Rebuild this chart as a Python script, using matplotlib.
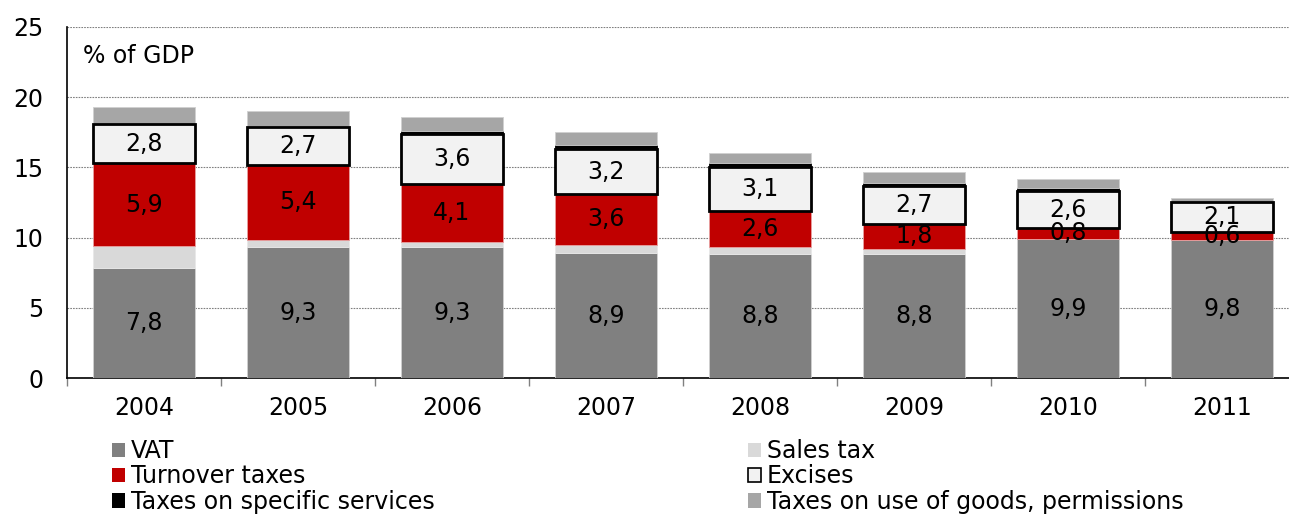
import numpy as np
import matplotlib
matplotlib.use('Agg')
from matplotlib import pyplot as plt
from matplotlib.patches import Patch

years = ['2004', '2005', '2006', '2007', '2008', '2009', '2010', '2011']
vat = [7.8, 9.3, 9.3, 8.9, 8.8, 8.8, 9.9, 9.8]
sales_tax = [1.6, 0.5, 0.4, 0.6, 0.5, 0.4, 0.0, 0.0]
turnover = [5.9, 5.4, 4.1, 3.6, 2.6, 1.8, 0.8, 0.6]
excises = [2.8, 2.7, 3.6, 3.2, 3.1, 2.7, 2.6, 2.1]
specific = [0.0, 0.0, 0.2, 0.3, 0.3, 0.2, 0.2, 0.0]
use_goods = [1.2, 1.1, 1.0, 0.9, 0.7, 0.8, 0.7, 0.3]

FS = 17
plt.rcParams['font.family'] = 'DejaVu Sans'

fig = plt.figure(figsize=(12.89, 5.15), dpi=100)
ax = fig.add_axes([67 / 1289, 137 / 515, 1232 / 1289, 351 / 515])

x = np.arange(len(years))
w = 0.66
bottom = np.zeros(len(years))

def fmt(v):
    return ('%.1f' % v).replace('.', ',')

b_vat = ax.bar(x, vat, w, bottom=bottom, color='#808080', edgecolor='#d0d0d0', linewidth=0.6, zorder=3)
bottom += vat
b_sales = ax.bar(x, sales_tax, w, bottom=bottom, color='#d9d9d9', edgecolor='#e8e8e8', linewidth=0.6, zorder=3)
bottom += sales_tax
b_turn = ax.bar(x, turnover, w, bottom=bottom, color='#c00000', edgecolor='#e8a0a0', linewidth=0.6, zorder=3)
bottom += turnover
b_exc = ax.bar(x, excises, w, bottom=bottom, color='#f2f2f2', edgecolor='black', linewidth=2, zorder=4)
bottom += excises
b_spec = ax.bar(x, specific, w, bottom=bottom, color='black', edgecolor='black', linewidth=0.6, zorder=3)
bottom += specific
b_use = ax.bar(x, use_goods, w, bottom=bottom, color='#a6a6a6', edgecolor='#d0d0d0', linewidth=0.6, zorder=3)

for bars, vals in [(b_vat, vat), (b_turn, turnover), (b_exc, excises)]:
    ax.bar_label(bars, labels=[fmt(v) for v in vals], label_type='center', fontsize=FS, color='black', zorder=6)

ax.set_xlim(-0.5, len(years) - 0.5)
ax.set_ylim(0, 25)
ax.set_yticks([0, 5, 10, 15, 20, 25])
ax.tick_params(axis='y', length=0, pad=17, labelsize=FS)
ax.yaxis.grid(True, linestyle=(0, (1.5, 1)), color='#808080', linewidth=0.8, zorder=0)
ax.set_xticks(x)
ax.set_xticklabels(years)
ax.tick_params(axis='x', which='major', length=0, pad=13, labelsize=FS)
ax.set_xticks(np.arange(-0.5, len(years), 1.0), minor=True)
ax.tick_params(axis='x', which='minor', length=6, width=1, color='#808080', direction='out')
for s in ['top', 'right']:
    ax.spines[s].set_visible(False)
ax.spines['left'].set_linewidth(1.2)
ax.spines['bottom'].set_linewidth(1.2)

ax.text(16 / 1232, 0.917, '% of GDP', transform=ax.transAxes, fontsize=FS, va='center', ha='left')

left_handles = [Patch(facecolor='#808080', edgecolor='none'),
                Patch(facecolor='#c00000', edgecolor='none'),
                Patch(facecolor='black', edgecolor='none')]
left_labels = ['VAT', 'Turnover taxes', 'Taxes on specific services']
right_handles = [Patch(facecolor='#d9d9d9', edgecolor='none'),
                 Patch(facecolor='#f2f2f2', edgecolor='black', linewidth=1.2),
                 Patch(facecolor='#a6a6a6', edgecolor='none')]
right_labels = ['Sales tax', 'Excises', 'Taxes on use of goods, permissions']

common = dict(loc='upper left', frameon=False, fontsize=FS, handlelength=0.55, handleheight=0.55,
              handletextpad=0.25, labelspacing=0.06, borderaxespad=0, borderpad=0)
fig.legend(left_handles, left_labels, bbox_to_anchor=(112 / 1289, 1 - 439 / 515), **common)
fig.legend(right_handles, right_labels, bbox_to_anchor=(748 / 1289, 1 - 439 / 515), **common)

plt.savefig('out.png', dpi=100)
